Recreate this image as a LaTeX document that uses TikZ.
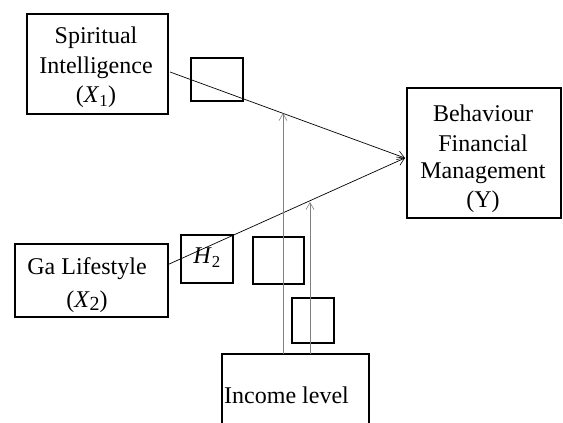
\documentclass[tikz,border=0pt]{standalone}
\usepackage{fontspec}
\setmainfont{Liberation Serif}
\usetikzlibrary{arrows.meta}
\tikzset{
  box/.style={draw=black, line width=2.2pt, inner sep=0pt, anchor=north west},
  lbl/.style={font=\fontsize{24}{30}\selectfont, align=center, inner sep=0pt},
  path1/.style={draw=black, line width=0.7pt, -{Straight Barb[length=7pt,width=9pt,line width=0.6pt]}},
  mod/.style={draw=gray, line width=0.8pt, -{Straight Barb[length=7pt,width=8pt,line width=0.6pt]}},
}
\begin{document}
\begin{tikzpicture}[x=1pt,y=-1pt]
\useasboundingbox (0,0) rectangle (563,423);
% boxes
\node[box, minimum width=141pt, minimum height=100pt] (si) at (26,13) {};
\node[box, minimum width=153pt, minimum height=73pt] (ga) at (14,243) {};
\node[box, minimum width=154pt, minimum height=130pt] (bf) at (406,87) {};
\node[box, minimum width=52pt, minimum height=43pt] (b1) at (190,57) {};
\node[box, minimum width=52pt, minimum height=48pt] (h2) at (180,234) {};
\node[box, minimum width=51pt, minimum height=47pt] (b3) at (252,236) {};
\node[box, minimum width=42pt, minimum height=45pt] (b4) at (291,297) {};
\draw[line width=2.2pt] (222,425) -- (222,354) -- (369,354) -- (369,425);
\coordinate (incL) at (283,354);
\coordinate (incR) at (310,354);
% labels
\node[lbl] at (96,38) {Spiritual};
\node[lbl] at (96,68) {Intelligence};
\node[lbl] at (96,97) {(\textit{X}\textsubscript{1})};
\node[lbl] at (87,269) {Ga Lifestyle};
\node[lbl] at (87,302) {(\textit{X}\raisebox{-3pt}{\fontsize{20}{20}\selectfont 2})};
\node[lbl] at (483,113) {Behaviour};
\node[lbl] at (483,143) {Financial};
\node[lbl] at (483,173) {Management};
\node[lbl] at (483,202) {(Y)};
\node[lbl, anchor=west] at (224,395) {Income level};
\node[lbl] at (207,258) {\textit{H}\textsubscript{2}};
% connectors
\coordinate (s1) at (170,72);
\coordinate (s2) at (167,265);
\coordinate (tgt) at (405,158);
\coordinate (m1) at (283,113);
\coordinate (m2) at (310,202);
\draw[path1] (s1) -- (tgt);
\draw[path1] (s2) -- (tgt);
\draw[mod] (incL) -- (m1);
\draw[mod] (incR) -- (m2);
\end{tikzpicture}
\end{document}
